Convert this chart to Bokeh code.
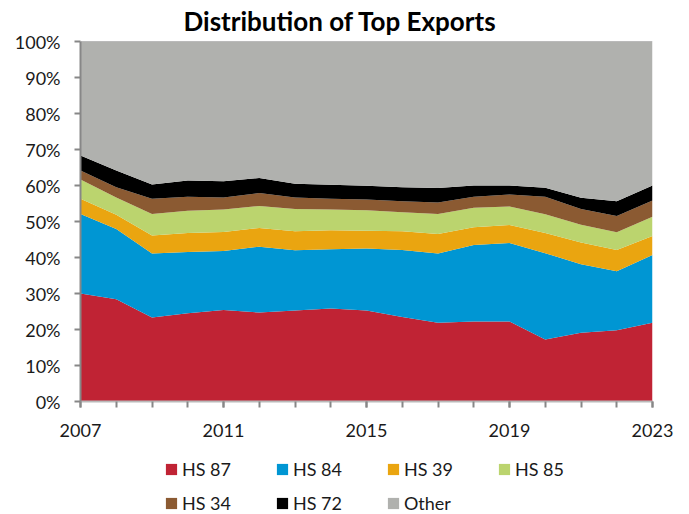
from bokeh.plotting import figure
from bokeh.layouts import column
from bokeh.models import (ColumnDataSource, Legend, LegendItem, FixedTicker,
                          PrintfTickFormatter, Range1d, Span)
from bokeh.embed import file_html
from bokeh.resources import INLINE

# ---- data (shares of total exports, %) ----
years = list(range(2007, 2024))
hs87 = [30.0, 28.4, 23.3, 24.5, 25.4, 24.7, 25.3, 25.8, 25.3, 23.5, 21.9, 22.2, 22.2, 17.2, 19.1, 19.8, 21.9]
hs84 = [22.1, 19.5, 17.8, 17.0, 16.4, 18.3, 16.7, 16.5, 17.2, 18.6, 19.2, 21.3, 21.8, 24.0, 19.0, 16.4, 18.8]
hs39 = [4.2, 4.0, 5.0, 5.3, 5.3, 5.2, 5.3, 5.3, 4.9, 5.2, 5.4, 4.9, 5.0, 5.6, 6.1, 5.9, 5.3]
hs85 = [5.4, 4.8, 6.0, 6.2, 6.2, 6.1, 6.2, 5.7, 5.7, 5.3, 5.6, 5.4, 5.2, 5.2, 4.9, 4.9, 5.3]
hs34 = [2.5, 2.8, 4.2, 3.9, 3.4, 3.6, 3.2, 3.0, 3.0, 3.0, 3.2, 3.1, 3.3, 4.9, 4.4, 4.5, 4.5]
hs72 = [4.1, 4.7, 4.0, 4.5, 4.5, 4.2, 3.8, 3.9, 3.8, 3.9, 4.0, 3.1, 2.5, 2.5, 3.1, 4.1, 4.2]
other = [31.7, 35.8, 39.7, 38.6, 38.8, 37.9, 39.5, 39.8, 40.1, 40.5, 40.7, 40.0, 40.0, 40.6, 43.4, 44.4, 40.0]

series_names = ["HS 87", "HS 84", "HS 39", "HS 85", "HS 34", "HS 72", "Other"]
series_keys = ["hs87", "hs84", "hs39", "hs85", "hs34", "hs72", "other"]
colors = ["#C02334", "#0096D3", "#EAA510", "#BBD46E", "#8B5A32", "#000000", "#B0B1AE"]
label_years = [2007, 2011, 2015, 2019, 2023]
y_ticks = list(range(0, 101, 10))

source = ColumnDataSource(dict(year=years, hs87=hs87, hs84=hs84, hs39=hs39, hs85=hs85,
                               hs34=hs34, hs72=hs72, other=other))

FONT = "Lato"
TEXT = "#1a1a1a"
AXIS = "#878787"

# ---------------- main chart ----------------
p = figure(width=689, height=450, output_backend="svg", toolbar_location=None,
           x_range=Range1d(2007, 2023), y_range=Range1d(0, 100),
           min_border_left=80, min_border_right=37, min_border_top=41, min_border_bottom=49)
p.outline_line_color = None
p.grid.visible = False
p.background_fill_color = "white"

renderers = p.varea_stack(stackers=series_keys, x="year", source=source, color=colors)

p.add_layout(Span(location=100, dimension="width", line_color="#8a8a8a", line_width=1))

# title
p.title.text = "Distribution of Top Exports"
p.title.align = "left"
p.title.offset = 103
p.title.vertical_align = "top"
p.title.text_font = FONT
p.title.text_font_style = "bold"
p.title.text_font_size = "26px"
p.title.text_color = "#000000"
p.title.standoff = 5

# x axis
xa = p.xaxis[0]
xa.ticker = FixedTicker(ticks=label_years, minor_ticks=years)
xa.major_tick_out = 6
xa.minor_tick_out = 6
xa.major_tick_in = 0
xa.minor_tick_in = 0
xa.axis_line_color = "#b9b9b9"
xa.axis_line_width = 2
xa.major_tick_line_color = AXIS
xa.minor_tick_line_color = AXIS
xa.major_tick_line_width = 2
xa.minor_tick_line_width = 2
xa.major_label_text_font = FONT
xa.major_label_text_font_size = "18px"
xa.major_label_text_color = TEXT
xa.major_label_standoff = 16

# y axis
ya = p.yaxis[0]
ya.ticker = FixedTicker(ticks=y_ticks, minor_ticks=[])
ya.formatter = PrintfTickFormatter(format="%d%%")
ya.major_tick_out = 6
ya.major_tick_in = 0
ya.minor_tick_out = 0
ya.minor_tick_in = 0
ya.axis_line_color = AXIS
ya.axis_line_width = 2
ya.major_tick_line_color = AXIS
ya.major_tick_line_width = 2
ya.major_label_text_font = FONT
ya.major_label_text_font_size = "18px"
ya.major_label_text_color = TEXT
ya.major_label_standoff = 14

# ---------------- legend strip ----------------
# The same stacked series are drawn here, but outside this strip's visible
# x-range, so only their legend keys show.
lg = figure(width=689, height=64, output_backend="svg", toolbar_location=None,
            x_range=Range1d(0, 1), y_range=Range1d(0, 1),
            x_axis_location=None, y_axis_location=None, min_border=0)
lg.outline_line_color = None
lg.grid.visible = False

key_renderers = lg.varea_stack(stackers=series_keys, x="year", source=source, color=colors)
items = [LegendItem(label=n, renderers=[r]) for n, r in zip(series_names, key_renderers)]
legend = Legend(items=items, orientation="horizontal", ncols=4,
                location=(84, 0),
                glyph_width=14, glyph_height=14, label_standoff=4,
                label_width=81, label_height=20, spacing=12,
                padding=0, margin=0, border_line_color=None,
                background_fill_alpha=0,
                label_text_font=FONT, label_text_font_size="18px",
                label_text_color=TEXT)
lg.add_layout(legend, "center")

layout = column(p, lg, spacing=0)
open("out.html", "w").write(file_html(layout, INLINE))
